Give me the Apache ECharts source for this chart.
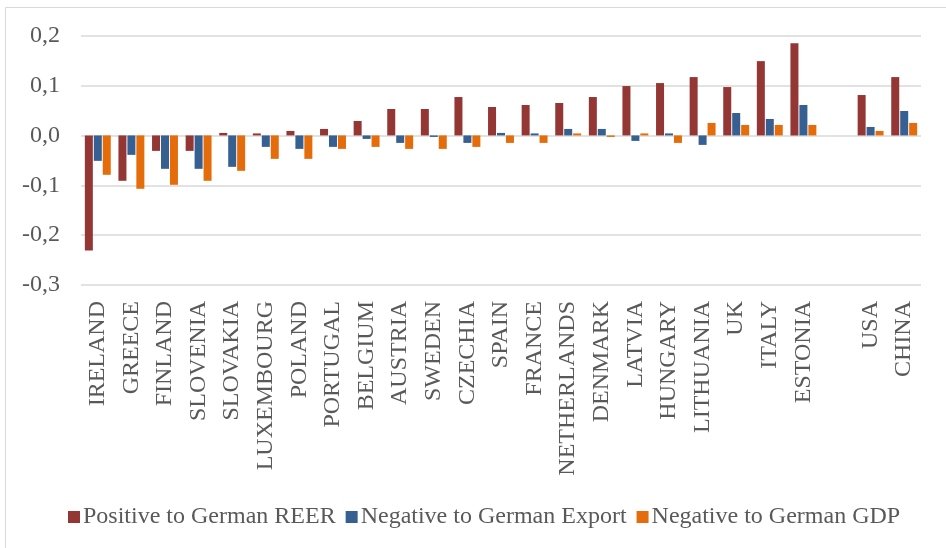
<!DOCTYPE html>
<html><head><meta charset="utf-8">
<script src="https://cdn.jsdelivr.net/npm/echarts@6/dist/echarts.min.js"></script>
<style>html,body{margin:0;padding:0;background:#fff}#c{width:946px;height:548px}</style>
</head><body><div id="c"></div>
<script>
const categories = ['IRELAND','GREECE','FINLAND','SLOVENIA','SLOVAKIA','LUXEMBOURG','POLAND','PORTUGAL','BELGIUM','AUSTRIA','SWEDEN','CZECHIA','SPAIN','FRANCE','NETHERLANDS','DENMARK','LATVIA','HUNGARY','LITHUANIA','UK','ITALY','ESTONIA','','USA','CHINA'];
const reer   = [-0.231,-0.091,-0.031,-0.031,0.005,0.004,0.009,0.013,0.029,0.053,0.053,0.077,0.057,0.061,0.065,0.077,0.099,0.105,0.117,0.097,0.149,0.185,null,0.081,0.117];
const exportV= [-0.051,-0.039,-0.067,-0.067,-0.063,-0.023,-0.027,-0.023,-0.007,-0.015,-0.003,-0.015,0.005,0.004,0.013,0.013,-0.011,0.004,-0.019,0.045,0.033,0.061,null,0.017,0.049];
const gdp    = [-0.079,-0.107,-0.099,-0.091,-0.071,-0.047,-0.047,-0.027,-0.023,-0.027,-0.027,-0.023,-0.015,-0.015,0.004,-0.003,0.004,-0.015,0.025,0.021,0.021,0.021,null,0.009,0.025];
const seriesNames = ['Positive to German REER','Negative to German Export','Negative to German GDP'];
const colors = ['#943634','#366092','#E46C0A'];
const font = '"Liberation Serif", "Times New Roman", serif';

const chart = echarts.init(document.getElementById('c'));
const mk = (name, data, color) => ({
  name, type: 'bar', data, barWidth: 8, barGap: '12%',
  itemStyle: { color }
});
chart.setOption({
  animation: false,
  graphic: [{ type: 'rect', shape: { x: 5.5, y: 7.5, width: 960, height: 560 },
    style: { fill: null, stroke: '#d9d9d9', lineWidth: 1 }, silent: true }],
  grid: { left: 81, right: 25, top: 35.7, bottom: 263 },
  legend: {
    left: 63, top: 500, itemWidth: 12, itemHeight: 12, itemGap: 10,
    icon: 'rect',
    textStyle: { fontFamily: font, fontSize: 24, color: '#595959', padding: [0,0,0,-2] },
    data: seriesNames
  },
  xAxis: {
    type: 'category', data: categories,
    axisLine: { show: false }, axisTick: { show: false },
    axisLabel: { rotate: 90, margin: 16, fontFamily: font, fontSize: 24, color: '#595959', interval: 0 }
  },
  yAxis: {
    type: 'value', min: -0.3, max: 0.2, interval: 0.1,
    axisLine: { show: false }, axisTick: { show: false },
    splitLine: { lineStyle: { color: '#d9d9d9', width: 1.5 } },
    axisLabel: { margin: 21, fontFamily: font, fontSize: 24, color: '#595959',
      formatter: v => v.toFixed(1).replace('.', ',') }
  },
  series: [mk(seriesNames[0], reer, colors[0]), mk(seriesNames[1], exportV, colors[1]), mk(seriesNames[2], gdp, colors[2])]
});
</script></body></html>
